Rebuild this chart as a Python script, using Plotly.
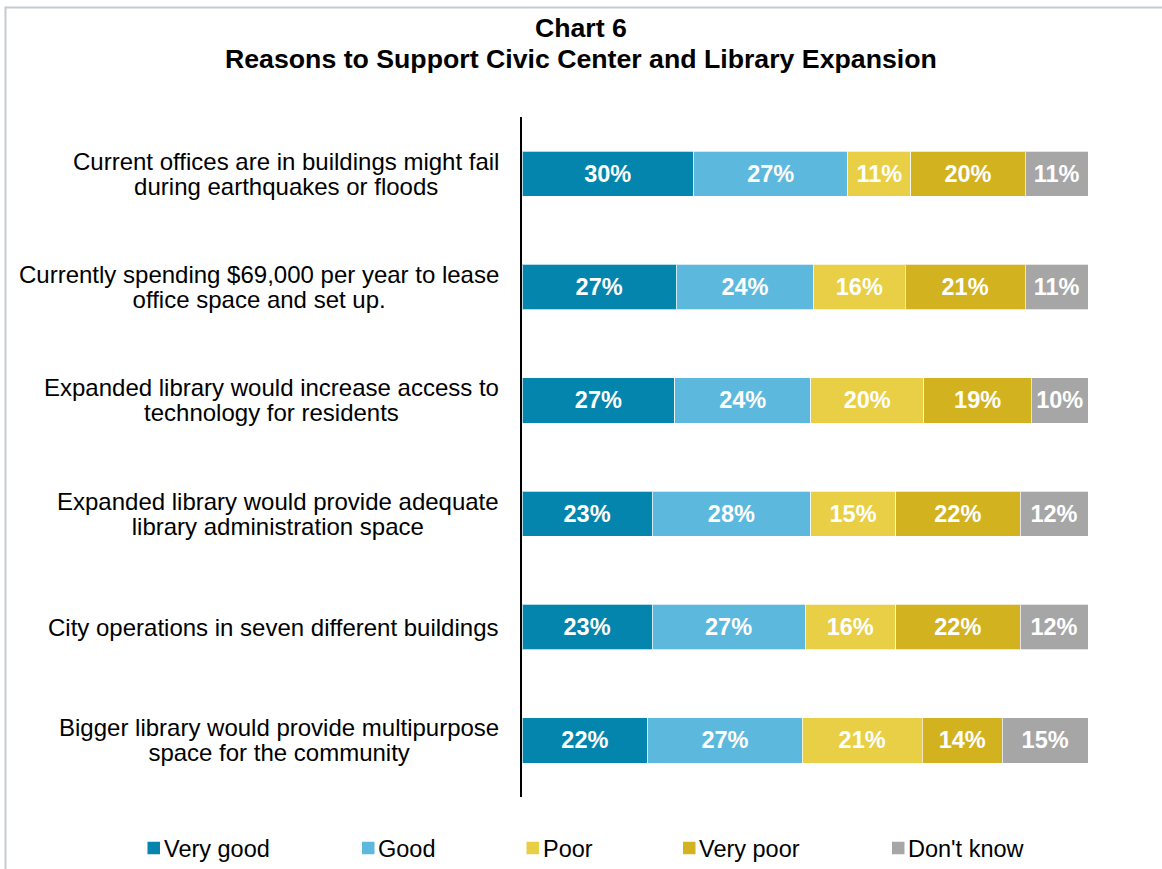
import plotly.graph_objects as go

# Survey statements (top to bottom) and response shares in percent
statements = [
    "Current offices are in buildings might fail<br>during earthquakes or floods",
    "Currently spending $69,000 per year to lease<br>office space and set up.",
    "Expanded library would increase access to<br>technology for residents",
    "Expanded library would provide adequate<br>library administration space",
    "City operations in seven different buildings",
    "Bigger library would provide multipurpose<br>space for the community",
]
very_good = [30, 27, 27, 23, 23, 22]
good = [27, 24, 24, 28, 27, 27]
poor = [11, 16, 20, 15, 16, 21]
very_poor = [20, 21, 19, 22, 22, 14]
dont_know = [11, 11, 10, 12, 12, 15]

series_names = ["Very good", "Good", "Poor", "Very poor", "Don't know"]
series_values = [very_good, good, poor, very_poor, dont_know]
series_colors = ["#0385AD", "#5CB9DD", "#E9CF46", "#D3B220", "#A6A6A6"]

FONT = "Liberation Sans, Arial, sans-serif"
W, H = 1162, 869
ML, MR, MT, MB = 522, 74, 117, 72
PW, PH = W - ML - MR, H - MT - MB

# left edge (px) of each legend key along the bottom row
LEGEND_KEY_X = [147.5, 362, 526.5, 683, 892]
LEGEND_Y = 848
KEY = 12.5


def px_to_paper_x(px):
    return (px - ML) / PW


def px_to_paper_y(py):
    return (H - MB - py) / PH


def sized(text, size):
    # wrap every line in a span so glyph size and line spacing can differ
    return "<br>".join(f'<span style="font-size:{size}px">{t}</span>' for t in text.split("<br>"))


fig = go.Figure()
for name, vals, color in zip(series_names, series_values, series_colors):
    fig.add_trace(go.Bar(
        y=statements,
        x=vals,
        name=name,
        orientation="h",
        marker=dict(color=color, line=dict(color="rgba(255,255,255,0.7)", width=1)),
        text=[f"{v}%" for v in vals],
        textposition="inside",
        insidetextanchor="middle",
        textangle=0,
        constraintext="none",
        textfont=dict(family=FONT, size=23.5, color="white", weight="bold"),
        hoverinfo="skip",
        showlegend=False,
    ))

# Category labels, each line centred, to the left of the axis
for s in statements:
    fig.add_annotation(
        x=0, xref="paper", y=s, yref="y",
        text=sized(s, 24), showarrow=False,
        xanchor="right", yanchor="middle", align="center",
        xshift=-21,
        font=dict(family=FONT, size=25 / 1.3, color="black"),
    )

# Two-line chart title centred on the whole figure
fig.add_annotation(
    x=px_to_paper_x(581), xref="paper", y=px_to_paper_y(43.5), yref="paper",
    text=sized("Chart 6<br>Reasons to Support Civic Center and Library Expansion", 26.7),
    showarrow=False, xanchor="center", yanchor="middle", align="center",
    font=dict(family=FONT, size=31 / 1.3, color="black", weight="bold"),
)

# Legend row: coloured square key followed by the series name
for name, color, kx in zip(series_names, series_colors, LEGEND_KEY_X):
    fig.add_shape(
        type="rect", xref="paper", yref="paper",
        x0=px_to_paper_x(kx), x1=px_to_paper_x(kx + KEY),
        y0=px_to_paper_y(LEGEND_Y - KEY / 2), y1=px_to_paper_y(LEGEND_Y + KEY / 2),
        fillcolor=color, line=dict(width=0),
    )
    fig.add_annotation(
        x=px_to_paper_x(kx + KEY + 1.5), xref="paper",
        y=px_to_paper_y(LEGEND_Y + 1), yref="paper",
        text=name, showarrow=False, xanchor="left", yanchor="middle",
        font=dict(family=FONT, size=23.5, color="black"),
    )

# Frame line along the top and left of the chart area
frame = dict(color="#C4CCD0", width=2)
fig.add_shape(type="line", xref="paper", yref="paper",
              x0=px_to_paper_x(5.5), x1=px_to_paper_x(1200),
              y0=px_to_paper_y(7.5), y1=px_to_paper_y(7.5), line=frame)
fig.add_shape(type="line", xref="paper", yref="paper",
              x0=px_to_paper_x(5.5), x1=px_to_paper_x(5.5),
              y0=px_to_paper_y(6.5), y1=px_to_paper_y(900), line=frame)

fig.update_layout(
    width=W, height=H,
    margin=dict(l=ML, r=MR, t=MT, b=MB, autoexpand=False),
    paper_bgcolor="white", plot_bgcolor="white",
    barmode="stack", barnorm="percent",
    bargap=0.6,
    xaxis=dict(range=[0, 100], visible=False, fixedrange=True),
    yaxis=dict(
        autorange="reversed", showticklabels=False, ticks="",
        showline=True, linecolor="black", linewidth=2,
        showgrid=False, zeroline=False, fixedrange=True,
    ),
    showlegend=False,
)

fig.write_html("out.html")
